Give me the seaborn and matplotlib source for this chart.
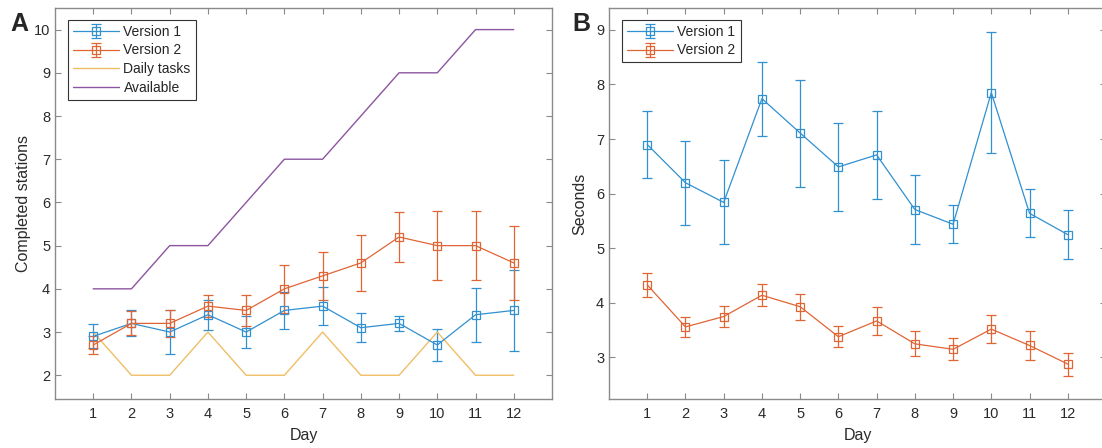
import numpy as np
import pandas as pd
import matplotlib
matplotlib.use("Agg")
import matplotlib.pyplot as plt
import seaborn as sns

# ---- data ----
days = [1, 2, 3, 4, 5, 6, 7, 8, 9, 10, 11, 12]

a_v1 = [2.9, 3.2, 3.0, 3.4, 3.0, 3.5, 3.6, 3.1, 3.2, 2.7, 3.4, 3.5]
a_v1_err = [0.28, 0.3, 0.51, 0.35, 0.38, 0.43, 0.44, 0.34, 0.18, 0.36, 0.63, 0.94]
a_v2 = [2.7, 3.2, 3.2, 3.6, 3.5, 4.0, 4.3, 4.6, 5.2, 5.0, 5.0, 4.6]
a_v2_err = [0.2, 0.28, 0.31, 0.25, 0.35, 0.56, 0.55, 0.64, 0.58, 0.8, 0.8, 0.85]
daily_tasks = [3, 2, 2, 3, 2, 2, 3, 2, 2, 3, 2, 2]
available = [4, 4, 5, 5, 6, 7, 7, 8, 9, 9, 10, 10]

b_v1 = [6.90, 6.20, 5.84, 7.74, 7.11, 6.49, 6.71, 5.71, 5.44, 7.85, 5.64, 5.25]
b_v1_err = [0.62, 0.77, 0.77, 0.68, 0.98, 0.80, 0.80, 0.64, 0.35, 1.11, 0.44, 0.45]
b_v2 = [4.33, 3.56, 3.75, 4.14, 3.93, 3.38, 3.67, 3.25, 3.15, 3.52, 3.22, 2.88]
b_v2_err = [0.22, 0.18, 0.19, 0.20, 0.24, 0.19, 0.25, 0.23, 0.20, 0.26, 0.27, 0.21]

# ---- style ----
sns.set_theme(style="ticks")
plt.rcParams['font.family'] = ['Liberation Sans', 'DejaVu Sans']

C_BLUE = '#3190d0'
C_ORANGE = '#e06535'
C_YELLOW = '#efbe66'
C_PURPLE = '#8c55a0'
SPINE = '#8a8a8a'
TXT = '#2a2a2a'

fig = plt.figure(figsize=(11.02, 4.48), dpi=100)
axA = fig.add_axes([55 / 1102, 1 - 399 / 448, (552 - 55) / 1102, (399 - 8) / 448])
axB = fig.add_axes([609 / 1102, 1 - 399 / 448, (1106 - 609) / 1102, (399 - 8) / 448])


def eb(ax, y, err, color, label):
    return ax.errorbar(days, y, yerr=err, color=color, lw=0.9, elinewidth=0.9,
                       capsize=3.8, capthick=0.9, marker='s', ms=6,
                       mfc='none', mec=color, mew=0.9, label=label)


def style(ax):
    ax.set_xlim(0, 13)
    ax.set_xticks(days)
    ax.tick_params(direction='in', length=4, width=0.8, color=SPINE,
                   labelsize=10.5, labelcolor=TXT, top=True, right=True)
    ax.tick_params(axis='x', pad=6)
    for s in ax.spines.values():
        s.set_color(SPINE)
        s.set_linewidth(1.0)
    ax.set_xlabel('Day', fontsize=11.5, color=TXT, labelpad=5)


LEG = dict(loc='upper left', fancybox=False, edgecolor='#333333', framealpha=1,
           fontsize=10, handlelength=3.3, borderpad=0.35, labelspacing=0.35,
           handletextpad=0.35, borderaxespad=0)

# Panel A
hA1 = eb(axA, a_v1, a_v1_err, C_BLUE, 'Version 1')
hA2 = eb(axA, a_v2, a_v2_err, C_ORANGE, 'Version 2')
dfA = pd.DataFrame({'Day': days, 'Daily tasks': daily_tasks, 'Available': available})
sns.lineplot(data=dfA, x='Day', y='Daily tasks', ax=axA, color=C_YELLOW, lw=1.0,
             label='Daily tasks', legend=False)
sns.lineplot(data=dfA, x='Day', y='Available', ax=axA, color=C_PURPLE, lw=1.0,
             label='Available', legend=False)
style(axA)
axA.set_ylim(1.45, 10.5)
axA.set_yticks(range(2, 11))
axA.set_ylabel('Completed stations', fontsize=11.5, color=TXT, labelpad=2)
lines = axA.get_lines()
hY = [l for l in lines if l.get_label() == 'Daily tasks'][0]
hP = [l for l in lines if l.get_label() == 'Available'][0]
legA = axA.legend([hA1, hA2, hY, hP], ['Version 1', 'Version 2', 'Daily tasks', 'Available'],
                  bbox_to_anchor=(0.026, 0.97), **LEG)
legA.get_frame().set_linewidth(0.8)

# Panel B
hB1 = eb(axB, b_v1, b_v1_err, C_BLUE, 'Version 1')
hB2 = eb(axB, b_v2, b_v2_err, C_ORANGE, 'Version 2')
style(axB)
axB.set_ylim(2.24, 9.4)
axB.set_yticks(range(3, 10))
axB.set_ylabel('Seconds', fontsize=11.5, color=TXT, labelpad=6)
legB = axB.legend([hB1, hB2], ['Version 1', 'Version 2'],
                  bbox_to_anchor=(0.026, 0.97), **LEG)
legB.get_frame().set_linewidth(0.8)

fig.text(10 / 1102, 1 - 24 / 448, 'A', fontsize=18, fontweight='bold', va='center', ha='left')
fig.text(572 / 1102, 1 - 24 / 448, 'B', fontsize=18, fontweight='bold', va='center', ha='left')

fig.savefig('out.png', dpi=100)
